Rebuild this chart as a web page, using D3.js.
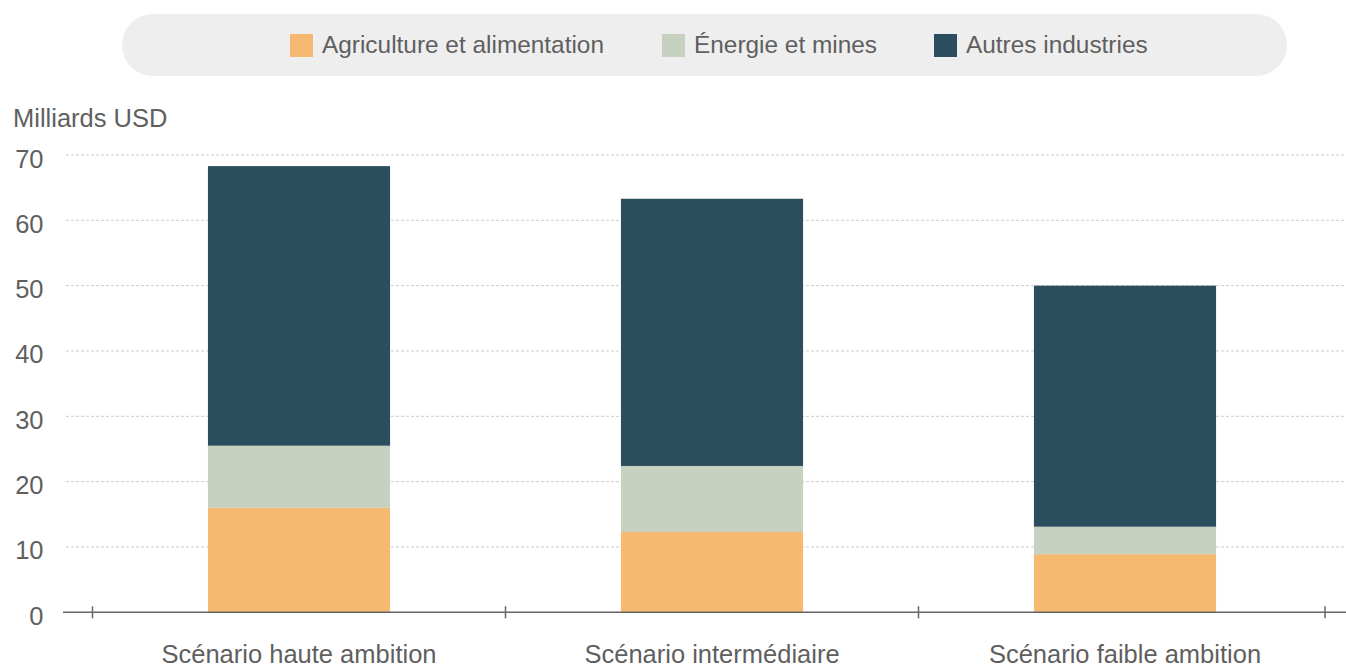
<!DOCTYPE html>
<html>
<head>
<meta charset="utf-8">
<script src="https://cdn.jsdelivr.net/npm/d3@7"></script>
<style>
  html, body { margin: 0; padding: 0; background: #ffffff; }
  svg { display: block; font-family: "Liberation Sans", Arial, sans-serif; }
</style>
</head>
<body>
<svg id="chart" width="1346" height="667"></svg>
<script>
// Scenarios and the three stacked components (billions USD)
const categories = ["Scénario haute ambition", "Scénario intermédiaire", "Scénario faible ambition"];
const seriesNames = ["Agriculture et alimentation", "Énergie et mines", "Autres industries"];
const agriculture = [16.0, 12.3, 8.9];
const energie = [9.5, 10.1, 4.2];
const autres = [42.8, 40.9, 36.9];
const yTicks = [0, 10, 20, 30, 40, 50, 60, 70];
const colors = ["#f5b971", "#c6d1bf", "#2b4e5f"];
const unitLabel = "Milliards USD";

const rows = categories.map((c, i) => ({
  cat: c,
  "Agriculture et alimentation": agriculture[i],
  "Énergie et mines": energie[i],
  "Autres industries": autres[i]
}));

const svg = d3.select("#chart");
const textColor = "#5f5f5f";
const axisFont = 25.5;
const plotRight = 1325;

const x = d3.scaleBand().domain(categories).range([92.5, 1331.5]).padding(0);
const y = d3.scaleLinear().domain([0, 70]).range([612.3, 155]);
const barW = x.bandwidth() * 0.441;

// Legend pill
const legend = svg.append("g");
legend.append("rect")
  .attr("x", 122).attr("y", 14).attr("width", 1165).attr("height", 62)
  .attr("rx", 31).attr("fill", "#eeeeee");
const legendX = [290, 662, 934];
seriesNames.forEach((n, i) => {
  legend.append("rect").attr("x", legendX[i]).attr("y", 34)
    .attr("width", 23).attr("height", 23).attr("fill", colors[i]);
  legend.append("text").attr("x", legendX[i] + 32).attr("y", 53)
    .attr("font-size", 24.4).attr("fill", textColor).text(n);
});

// Unit label
svg.append("text").attr("x", 13).attr("y", 127)
  .attr("font-size", axisFont).attr("fill", textColor).text(unitLabel);

// Gridlines
svg.append("g").selectAll("line").data(yTicks.filter(d => d > 0)).join("line")
  .attr("x1", 66).attr("x2", 1346)
  .attr("y1", d => y(d)).attr("y2", d => y(d))
  .attr("stroke", "#cccccc").attr("stroke-width", 1).attr("stroke-dasharray", "3,2");

// Y tick labels
svg.append("g").selectAll("text").data(yTicks).join("text")
  .attr("x", 43.5).attr("y", d => y(d) + 12.5)
  .attr("text-anchor", "end").attr("font-size", axisFont).attr("fill", textColor)
  .text(d => d);

// Stacked bars
const stack = d3.stack().keys(seriesNames)(rows);
svg.append("g").selectAll("g").data(stack).join("g")
  .attr("fill", (d, i) => colors[i])
  .selectAll("rect").data(d => d).join("rect")
  .attr("x", d => x(d.data.cat) + x.bandwidth() / 2 - barW / 2)
  .attr("width", barW)
  .attr("y", d => y(d[1]))
  .attr("height", d => y(d[0]) - y(d[1]));

// X axis baseline and boundary ticks
svg.append("line").attr("x1", 63).attr("x2", 1346)
  .attr("y1", y(0)).attr("y2", y(0))
  .attr("stroke", "#666666").attr("stroke-width", 1.5);
const bounds = categories.map(c => x(c)).concat([plotRight]);
svg.append("g").selectAll("line").data(bounds).join("line")
  .attr("x1", d => d).attr("x2", d => d)
  .attr("y1", y(0) - 6).attr("y2", y(0) + 6)
  .attr("stroke", "#666666").attr("stroke-width", 1.5);

// Category labels
svg.append("g").selectAll("text").data(categories).join("text")
  .attr("x", d => x(d) + x.bandwidth() / 2).attr("y", 663)
  .attr("text-anchor", "middle").attr("font-size", axisFont).attr("fill", textColor)
  .text(d => d);
</script>
</body>
</html>
